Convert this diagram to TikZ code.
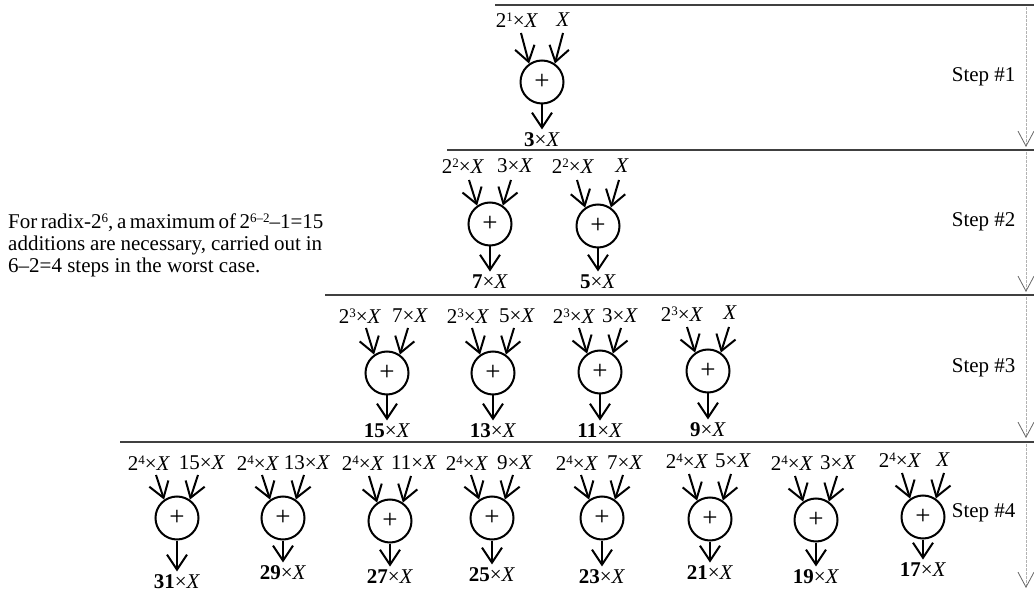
\documentclass[tikz,border=0pt]{standalone}
\usepackage{fontspec}
\setmainfont{Liberation Serif}
\usetikzlibrary{arrows.meta}
\newcommand\up[1]{\raisebox{6pt}{\fontsize{13}{13}\selectfont #1}}
\newcommand\pw[1]{2\up{#1}×\textit{X}}
\newcommand\tx[1]{#1×\textit{X}}
\newcommand\bx[1]{\textbf{#1}×\textit{X}}
\begin{document}
\begin{tikzpicture}[x=1pt,y=-1pt,
	every node/.style={font=\fontsize{21}{22}\selectfont},
	adder/.style={draw,circle,line width=2pt,minimum size=43pt,inner sep=0pt,font=\fontsize{27}{27}\selectfont},
	arr/.style={line width=2pt,-{Straight Barb[length=15pt,width=20pt]}},
	stage/.style={line width=1.5pt,black!75},
	steparr/.style={black!30,line width=0.8pt,dash pattern=on 3pt off 1pt,-{Straight Barb[length=15pt,width=16pt,color=black!60]}}]
	\useasboundingbox (0,0) rectangle (1034,593);
	
	\node[anchor=north west,align=left,inner sep=0pt] (note) at (8,214) {\hbox to 314pt{For radix-2\up{6}, a maximum of 2\up{6–2}–1=15}\\ \hbox to 314pt{additions are necessary, carried out in}\\ 6–2=4 steps in the worst case.};
	
	\draw[stage] (495,5) -- (1034,5);
	\draw[stage] (447,150) -- (1034,150);
	\draw[stage] (325,295) -- (1034,295);
	\draw[stage] (120,442) -- (1034,442);
	
	\coordinate (u1) at (1026,7);   \coordinate (v1) at (1026,147);
	\coordinate (u2) at (1026,152); \coordinate (v2) at (1026,292);
	\coordinate (u3) at (1026,297); \coordinate (v3) at (1026,438);
	\coordinate (u4) at (1026,444); \coordinate (v4) at (1026,588);
	\draw[steparr] (u1) -- (v1);
	\draw[steparr] (u2) -- (v2);
	\draw[steparr] (u3) -- (v3);
	\draw[steparr] (u4) -- (v4);
	
	\node[anchor=east] (st1) at (1019,77) {Step \#1};
	\node[anchor=east] (st2) at (1019,222) {Step \#2};
	\node[anchor=east] (st3) at (1019,368) {Step \#3};
	\node[anchor=east] (st4) at (1019,513) {Step \#4};
	
	\node[adder] (a3) at (542,82) {+};
	\node (p3a) at (517,20) {\pw{1}};
	\node (p3b) at (563,20) {\textit{X}};
	\coordinate (s3a) at (521,33); \coordinate (s3b) at (563,33);
	\node (o3) at (542,140) {\bx{3}};
	\draw[arr] (s3a)--(a3.125); \draw[arr] (s3b)--(a3.55); \draw[arr] (a3)--(o3);
	
	\node[adder] (a7) at (490,224) {+};
	\node (p7a) at (463,166) {\pw{2}};
	\node (p7b) at (515,166) {\tx{3}};
	\coordinate (s7a) at (469,180); \coordinate (s7b) at (511,180);
	\node (o7) at (490,282) {\bx{7}};
	\draw[arr] (s7a)--(a7.125); \draw[arr] (s7b)--(a7.55); \draw[arr] (a7)--(o7);
	
	\node[adder] (a5) at (598,226) {+};
	\node (p5a) at (573,166) {\pw{2}};
	\node (p5b) at (622,166) {\textit{X}};
	\coordinate (s5a) at (577,180); \coordinate (s5b) at (619,180);
	\node (o5) at (598,282) {\bx{5}};
	\draw[arr] (s5a)--(a5.125); \draw[arr] (s5b)--(a5.55); \draw[arr] (a5)--(o5);
	
	\node[adder] (a15) at (387,373) {+};
	\node (p15a) at (360,316) {\pw{3}};
	\node (p15b) at (410,316) {\tx{7}};
	\coordinate (s15a) at (366,328); \coordinate (s15b) at (408,328);
	\node (o15) at (387,431) {\bx{15}};
	\draw[arr] (s15a)--(a15.125); \draw[arr] (s15b)--(a15.55); \draw[arr] (a15)--(o15);
	
	\node[adder] (a13) at (493,373) {+};
	\node (p13a) at (468,316) {\pw{3}};
	\node (p13b) at (517,316) {\tx{5}};
	\coordinate (s13a) at (472,328); \coordinate (s13b) at (514,328);
	\node (o13) at (493,431) {\bx{13}};
	\draw[arr] (s13a)--(a13.125); \draw[arr] (s13b)--(a13.55); \draw[arr] (a13)--(o13);
	
	\node[adder] (a11) at (600,372) {+};
	\node (p11a) at (574,316) {\pw{3}};
	\node (p11b) at (620,316) {\tx{3}};
	\coordinate (s11a) at (579,328); \coordinate (s11b) at (621,328);
	\node (o11) at (600,431) {\bx{11}};
	\draw[arr] (s11a)--(a11.125); \draw[arr] (s11b)--(a11.55); \draw[arr] (a11)--(o11);
	
	\node[adder] (a9) at (708,371) {+};
	\node (p9a) at (682,314) {\pw{3}};
	\node (p9b) at (730,313) {\textit{X}};
	\coordinate (s9a) at (687,327); \coordinate (s9b) at (729,327);
	\node (o9) at (708,430) {\bx{9}};
	\draw[arr] (s9a)--(a9.125); \draw[arr] (s9b)--(a9.55); \draw[arr] (a9)--(o9);
	
	\node[adder] (a31) at (177,518) {+};
	\node (p31a) at (149,463) {\pw{4}};
	\node (p31b) at (202,463) {\tx{15}};
	\coordinate (s31a) at (156,475); \coordinate (s31b) at (198,475);
	\node (o31) at (177,582) {\bx{31}};
	\draw[arr] (s31a)--(a31.125); \draw[arr] (s31b)--(a31.55); \draw[arr] (a31)--(o31);
	
	\node[adder] (a29) at (283,518) {+};
	\node (p29a) at (258,463) {\pw{4}};
	\node (p29b) at (307,463) {\tx{13}};
	\coordinate (s29a) at (262,475); \coordinate (s29b) at (304,475);
	\node (o29) at (283,573) {\bx{29}};
	\draw[arr] (s29a)--(a29.125); \draw[arr] (s29b)--(a29.55); \draw[arr] (a29)--(o29);
	
	\node[adder] (a27) at (390,521) {+};
	\node (p27a) at (363,463) {\pw{4}};
	\node (p27b) at (414,463) {\tx{11}};
	\coordinate (s27a) at (369,476); \coordinate (s27b) at (411,476);
	\node (o27) at (390,577) {\bx{27}};
	\draw[arr] (s27a)--(a27.125); \draw[arr] (s27b)--(a27.55); \draw[arr] (a27)--(o27);
	
	\node[adder] (a25) at (492,518) {+};
	\node (p25a) at (467,463) {\pw{4}};
	\node (p25b) at (515,463) {\tx{9}};
	\coordinate (s25a) at (471,475); \coordinate (s25b) at (513,475);
	\node (o25) at (492,575) {\bx{25}};
	\draw[arr] (s25a)--(a25.125); \draw[arr] (s25b)--(a25.55); \draw[arr] (a25)--(o25);
	
	\node[adder] (a23) at (602,518) {+};
	\node (p23a) at (577,463) {\pw{4}};
	\node (p23b) at (625,463) {\tx{7}};
	\coordinate (s23a) at (581,475); \coordinate (s23b) at (623,475);
	\node (o23) at (602,577) {\bx{23}};
	\draw[arr] (s23a)--(a23.125); \draw[arr] (s23b)--(a23.55); \draw[arr] (a23)--(o23);
	
	\node[adder] (a21) at (710,519) {+};
	\node (p21a) at (687,461) {\pw{4}};
	\node (p21b) at (733,461) {\tx{5}};
	\coordinate (s21a) at (689,474); \coordinate (s21b) at (731,474);
	\node (o21) at (710,573) {\bx{21}};
	\draw[arr] (s21a)--(a21.125); \draw[arr] (s21b)--(a21.55); \draw[arr] (a21)--(o21);
	
	\node[adder] (a19) at (816,520) {+};
	\node (p19a) at (792,463) {\pw{4}};
	\node (p19b) at (838,463) {\tx{3}};
	\coordinate (s19a) at (795,476); \coordinate (s19b) at (837,476);
	\node (o19) at (816,577) {\bx{19}};
	\draw[arr] (s19a)--(a19.125); \draw[arr] (s19b)--(a19.55); \draw[arr] (a19)--(o19);
	
	\node[adder] (a17) at (923,517) {+};
	\node (p17a) at (900,460) {\pw{4}};
	\node (p17b) at (943,460) {\textit{X}};
	\coordinate (s17a) at (902,473); \coordinate (s17b) at (944,473);
	\node (o17) at (923,570) {\bx{17}};
	\draw[arr] (s17a)--(a17.125); \draw[arr] (s17b)--(a17.55); \draw[arr] (a17)--(o17);
\end{tikzpicture}
\end{document}
